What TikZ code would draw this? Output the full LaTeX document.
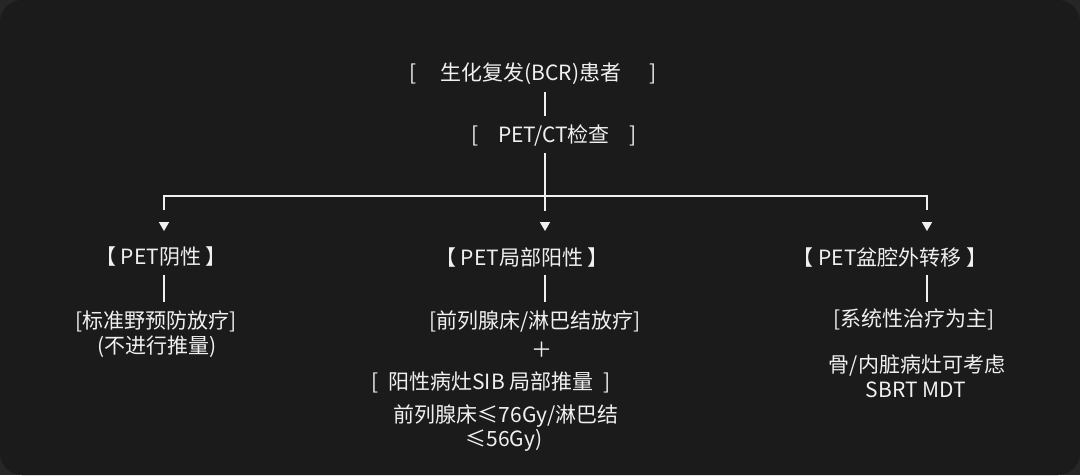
\documentclass[tikz,border=0pt]{standalone}
\usepackage{fontspec}
\setmainfont{Noto Sans CJK SC}
\usetikzlibrary{shapes.geometric}
\definecolor{bgc}{HTML}{1B1B1B}
\definecolor{edgec}{HTML}{262626}
\definecolor{txt}{HTML}{F0F0F0}
\begin{document}
\begin{tikzpicture}[x=1pt,y=-1pt,
  lbl/.style={text=txt,inner sep=0pt,font=\fontsize{21}{25}\selectfont,align=center},
  conn/.style={draw=txt,line width=2pt},
  tri/.style={regular polygon,regular polygon sides=3,shape border rotate=180,fill=txt,inner sep=0pt,minimum size=12pt}]
\fill[edgec] (0,0) rectangle (1080,475);
\fill[bgc,rounded corners=22pt] (0,0) rectangle (1080,475);
\useasboundingbox (0,0) rectangle (1080,475);
% nodes
\node[lbl] (bcr) at (533,74) {[\hspace{24pt}生化复发(BCR)患者\hspace{28pt}]};
\node[lbl] (pet) at (554,135) {[\hspace{20pt}PET/CT检查\hspace{20pt}]};
\node[lbl] (neg) at (161,257) {【 PET阴性 】};
\node[lbl] (mid) at (522,258) {【 PET局部阳性 】};
\node[lbl] (rgt) at (890,258) {【 PET盆腔外转移 】};
\node[lbl] (std) at (156,321) {[标准野预防放疗]};
\node[lbl] (nostd) at (157,347) {(不进行推量)};
\node[lbl] (midrt) at (535,321) {[前列腺床/淋巴结放疗]};
\node[lbl] (plus) at (542,350) {＋};
\node[lbl] (sib) at (491,382) {[\hspace{10pt}阳性病灶SIB 局部推量\hspace{10pt}]};
\node[lbl] (dose1) at (506,416) {前列腺床≤76Gy/淋巴结};
\node[lbl] (dose2) at (504,440) {≤56Gy)};
\node[lbl] (sys) at (914,319) {[系统性治疗为主]};
\node[lbl] (bone) at (917,366) {骨/内脏病灶可考虑};
\node[lbl] (sbrt) at (916,390) {SBRT MDT};
% arrowheads
\node[tri] (tl) at (164,225) {};
\node[tri] (tm) at (545,225) {};
\node[tri] (tr) at (927,225) {};
% connector coordinates
\coordinate (a1) at (545,92);
\coordinate (a2) at (545,116);
\coordinate (b1) at (545,153);
\coordinate (b2) at (545,211);
\coordinate (jl) at (164,196);
\coordinate (jr) at (927,196);
\coordinate (dl) at (164,210);
\coordinate (dr) at (927,210);
\coordinate (nl1) at (164,275);
\coordinate (nl2) at (164,302);
\coordinate (nm1) at (545,275);
\coordinate (nm2) at (545,302);
\coordinate (nr1) at (927,275);
\coordinate (nr2) at (927,302);
% connectors
\draw[conn] (a1) -- (a2);
\draw[conn] (b1) -- (b2);
\draw[conn] (dl) -- (jl) -- (jr) -- (dr);
\draw[conn] (nl1) -- (nl2);
\draw[conn] (nm1) -- (nm2);
\draw[conn] (nr1) -- (nr2);
\end{tikzpicture}
\end{document}
